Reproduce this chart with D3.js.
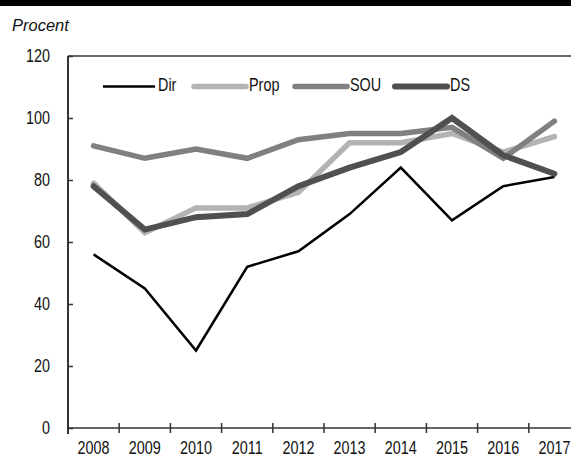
<!DOCTYPE html>
<html><head><meta charset="utf-8">
<script src="https://cdn.jsdelivr.net/npm/d3@7"></script>
<style>
body{margin:0;background:#fff;}
svg{display:block;}
.nar{font-family:"Liberation Sans",Arial,sans-serif;font-size:18px;fill:#111;}
</style></head><body>
<svg id="c" width="571" height="457"></svg>
<script>
const years = ["2008","2009","2010","2011","2012","2013","2014","2015","2016","2017"];
const dir  = [56,45,25,52,57,69,84,67,78,81];
const prop = [79,63,71,71,76,92,92,95,89,94];
const sou  = [91,87,90,87,93,95,95,97,87,99];
const ds   = [78,64,68,69,78,84,89,100,88,82];
const yTicks = [0,20,40,60,80,100,120];
const seriesNames = ["Dir","Prop","SOU","DS"];
const seriesData = [dir,prop,sou,ds];
const colors = ["#000000","#b3b3b3","#808080","#505050"];
const widths = [2.5,5.5,5.5,6];

const SX = 0.8; // horizontal squeeze to imitate a condensed face
const svg = d3.select("#c");
const L=68, R=580, T=56, B=428;
const x = d3.scaleBand().domain(years).range([L,R]);
const y = d3.scaleLinear().domain([0,120]).range([B,T]);

function narrow(sel){
  sel.each(function(){
    const t = d3.select(this);
    const xv = +(t.attr("x")||0);
    t.attr("class","nar").attr("font-family",null).attr("font-size",null).attr("fill",null)
     .attr("x", xv/SX).attr("transform",`scale(${SX},1)`);
  });
}

// top bar
svg.append("rect").attr("x",0).attr("y",0).attr("width",571).attr("height",6).attr("fill","#000");

svg.append("text").attr("x",12).attr("y",31).attr("font-family","Liberation Sans, Arial, sans-serif")
  .attr("font-style","italic").attr("font-size",16.5).attr("fill","#111").text("Procent");

// top frame line
svg.append("line").attr("x1",L).attr("x2",571).attr("y1",T).attr("y2",T).attr("stroke","#333").attr("stroke-width",1.5);

// y axis
const ya = svg.append("g").attr("transform",`translate(${L},0)`)
  .call(d3.axisLeft(y).tickValues(yTicks).tickSize(-5).tickPadding(18).tickFormat(d3.format("d")));
ya.select(".domain").attr("d",`M0,${T}V${B+6}`).attr("stroke","#333").attr("stroke-width",2);
ya.selectAll(".tick line").attr("stroke","#333").attr("stroke-width",1.5);
narrow(ya.selectAll(".tick text"));

// x axis
const xa = svg.append("g").attr("transform",`translate(0,${B})`)
  .call(d3.axisBottom(x).tickSize(0).tickPadding(13));
xa.select(".domain").attr("d",`M${L},0H${R}`).attr("stroke","#333").attr("stroke-width",1.5);
narrow(xa.selectAll(".tick text"));
xa.selectAll(".bt").data(years.slice(1)).enter().append("line")
  .attr("x1",d=>x(d)).attr("x2",d=>x(d)).attr("y1",-5).attr("y2",5)
  .attr("stroke","#333").attr("stroke-width",1.5);

// lines
const line = d3.line().x((d,i)=>x(years[i])+x.bandwidth()/2).y(d=>y(d));
seriesData.forEach((s,k)=>{
  svg.append("path").datum(s).attr("d",line).attr("fill","none")
    .attr("stroke",colors[k]).attr("stroke-width",widths[k])
    .attr("stroke-linejoin","miter").attr("stroke-linecap", k===0?"butt":"round");
});

// legend
const legX = [103,194,295,395];
const ly = 86.5;
seriesNames.forEach((n,k)=>{
  svg.append("line").attr("x1",legX[k]).attr("x2",legX[k]+52).attr("y1",ly).attr("y2",ly)
    .attr("stroke",colors[k]).attr("stroke-width",widths[k]).attr("stroke-linecap",k===0?"butt":"round");
  const t = svg.append("text").attr("x",legX[k]+55).attr("y",91.5).text(n);
  narrow(t);
});
</script></body></html>
